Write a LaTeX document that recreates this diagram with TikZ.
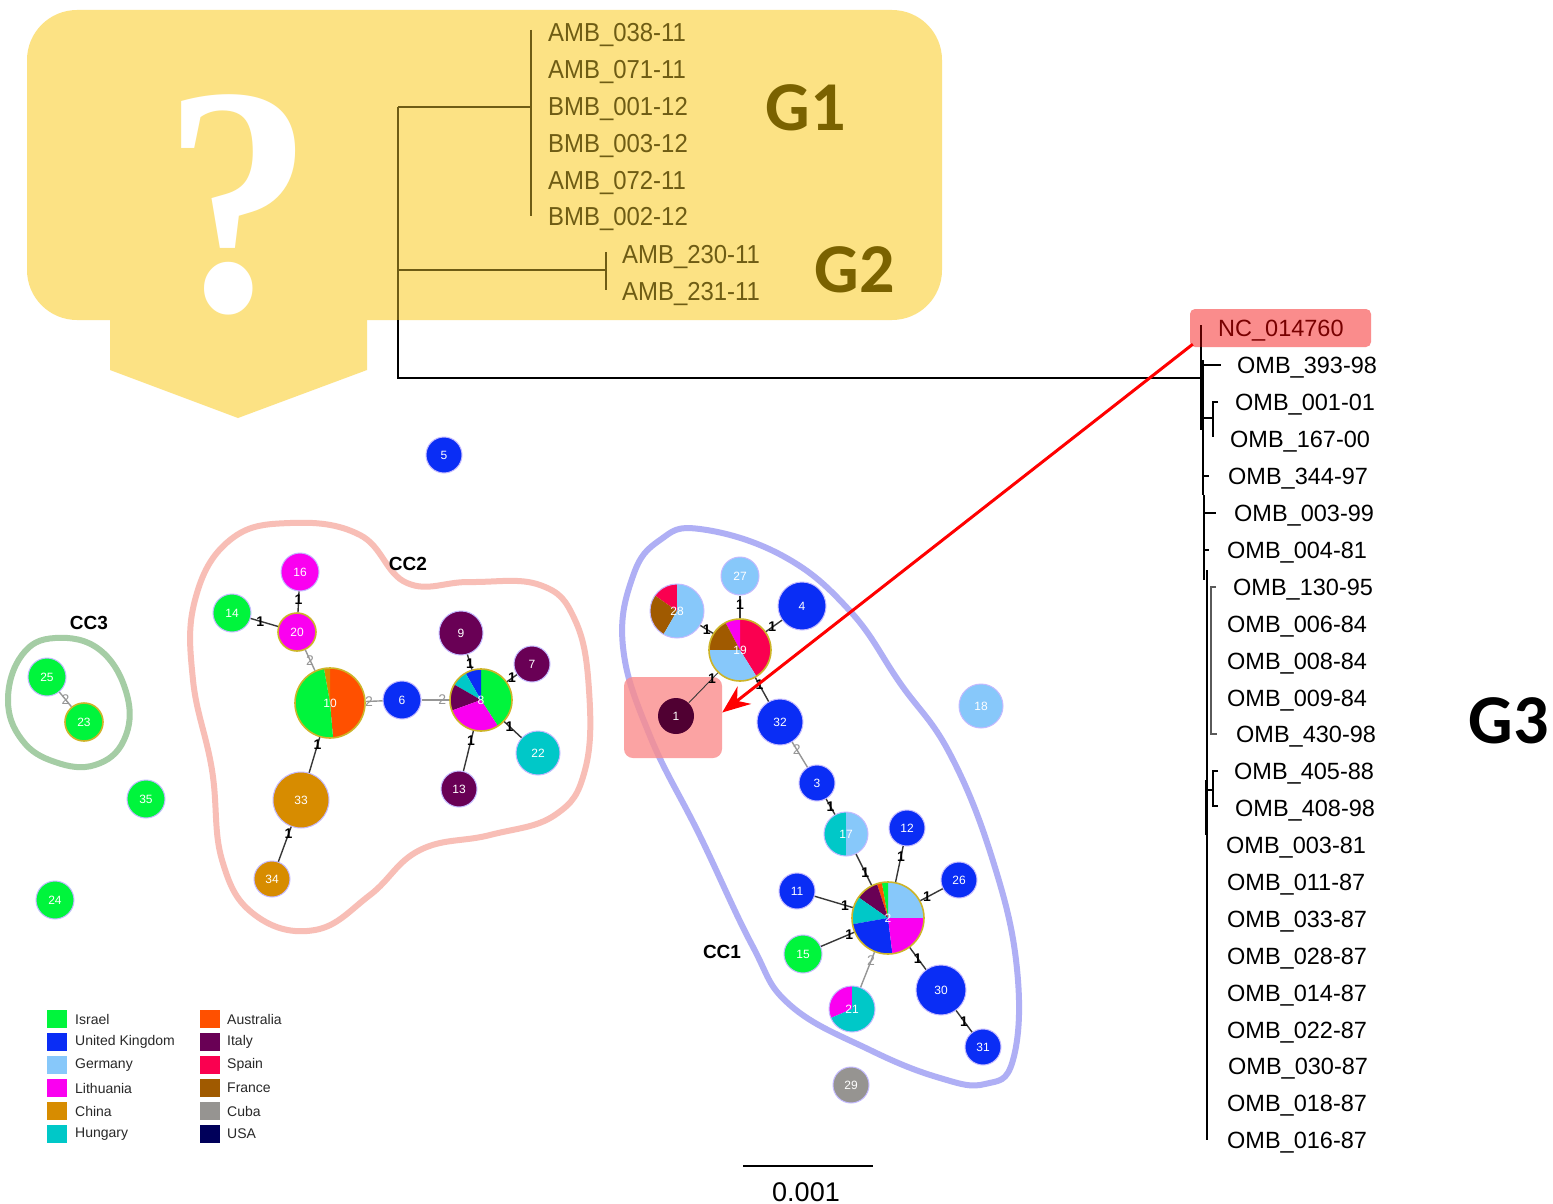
\documentclass[tikz,border=0pt]{standalone}
\usepackage{fontspec}
\usepackage{graphicx}
\setmainfont{Liberation Sans}
\newfontfamily\gfont{Carlito}
\newfontfamily\qfont{Liberation Serif}
\newfontfamily\narrowfont[FakeStretch=0.92]{Liberation Sans}
\usetikzlibrary{arrows.meta}
\definecolor{isr}{RGB}{0,245,60}
\definecolor{ukc}{RGB}{10,45,245}
\definecolor{ger}{RGB}{135,200,250}
\definecolor{lit}{RGB}{250,0,240}
\definecolor{chi}{RGB}{215,140,0}
\definecolor{hun}{RGB}{0,200,200}
\definecolor{aus}{RGB}{255,80,0}
\definecolor{ita}{RGB}{105,0,85}
\definecolor{itd}{RGB}{80,0,50}
\definecolor{spa}{RGB}{250,0,80}
\definecolor{fra}{RGB}{160,90,0}
\definecolor{cub}{RGB}{150,148,145}
\definecolor{usa}{RGB}{0,0,90}
\definecolor{yel}{RGB}{252,226,132}
\definecolor{olivet}{RGB}{110,92,20}
\definecolor{gbig}{RGB}{122,98,0}
\definecolor{pinkbox}{RGB}{250,140,140}
\definecolor{cconec}{RGB}{175,175,245}
\definecolor{cctwoc}{RGB}{248,190,182}
\definecolor{ccthreec}{RGB}{165,205,165}
\definecolor{halo}{RGB}{195,185,255}
\definecolor{hubc}{RGB}{205,180,40}
\definecolor{eone}{RGB}{55,55,55}
\definecolor{etwo}{RGB}{150,150,150}
\definecolor{legtext}{RGB}{40,40,40}
\newcommand\pslice[5]{\fill[#5] (#1) -- ++(#3:#2pt) arc[start angle=#3, end angle=#4, radius=#2pt] -- cycle;}
\begin{document}
\begin{tikzpicture}[x=1pt,y=-1pt,
  nd/.style={circle, draw=halo, line width=1pt, inner sep=0pt, text=white, font=\fontsize{12}{12}\selectfont},
  hub/.style={circle, draw=hubc, line width=1.6pt, inner sep=0pt, text=white, font=\fontsize{12}{12}\selectfont},
  eonest/.style={draw=eone, line width=1.4pt},
  etwost/.style={draw=etwo, line width=1.4pt},
  lone/.style={inner sep=0pt, text=black, font=\fontsize{14}{14}\selectfont\bfseries},
  ltwo/.style={inner sep=0pt, text=etwo, font=\fontsize{14}{14}\selectfont},
  ccl/.style={font=\fontsize{19}{19}\selectfont\bfseries, inner sep=0pt},
  gl/.style={anchor=base west, inner sep=0pt, text=olivet, font=\narrowfont\fontsize{26}{26}\selectfont},
  tl/.style={anchor=base west, inner sep=0pt, text=black, font=\fontsize{23.5}{24}\selectfont},
  big/.style={inner sep=0pt, font=\gfont\bfseries\fontsize{70}{70}\selectfont},
  legbox/.style={minimum width=20pt, minimum height=18pt, inner sep=0pt},
  legt/.style={anchor=west, inner sep=0pt, text=legtext, font=\fontsize{14}{14}\selectfont},
  treeo/.style={draw=olivet, line width=1.5pt},
  treek/.style={draw=black, line width=1.4pt}
]
\useasboundingbox (0,0) rectangle (1553,1204);
\fill[white] (0,0) rectangle (1553,1204);

% ---------- yellow callout ----------
\fill[yel, rounded corners=50pt] (27,10) rectangle (942,320);
\fill[yel] (110,300) -- (367,300) -- (367,370) -- (238,418) -- (110,370) -- cycle;
\node[anchor=base, inner sep=0pt, text=white] (qm) at (238,310)
  {\scalebox{0.92}[1]{\qfont\bfseries\fontsize{326}{326}\selectfont ?}};

% ---------- G1/G2 tree ----------
\draw[treeo] (398,107) -- (398,320);
\draw[treek] (398,320) -- (398,378) -- (1201,378);
\draw[treeo] (398,107) -- (531,107);
\draw[treeo] (531,30) -- (531,216);
\draw[treeo] (398,270) -- (606,270);
\draw[treeo] (606,252) -- (606,290);
\node[gl] (a1) at (548,42) {AMB\_038-11};
\node[gl] (a2) at (548,78.5) {AMB\_071-11};
\node[gl] (a3) at (548,115.5) {BMB\_001-12};
\node[gl] (a4) at (548,152.5) {BMB\_003-12};
\node[gl] (a5) at (548,189.5) {AMB\_072-11};
\node[gl] (a6) at (548,225.5) {BMB\_002-12};
\node[gl] (a7) at (622,263.5) {AMB\_230-11};
\node[gl] (a8) at (622,300.5) {AMB\_231-11};
\node[big, text=gbig] (g1) at (806,108) {G1};
\node[big, text=gbig] (g2) at (855,270) {G2};
\node[big, text=black] (g3) at (1509,721) {G3};

% ---------- G3 tree ----------
\node[fill=pinkbox, rounded corners=5pt, minimum width=181pt, minimum height=38pt, inner sep=0pt] (ncbox) at (1280.5,328) {};
\draw[draw={rgb,255:red,90;green,0;blue,0}, line width=1.4pt] (1201,325) -- (1201,347);
\draw[treek] (1201,347) -- (1201,430);
\draw[draw=black, line width=2.4pt] (1203,360) -- (1203,495);
\draw[draw=black, line width=1.8pt] (1204,495) -- (1204,580);
\draw[draw=black, line width=1.5pt] (1207,570) -- (1207,1140);
\draw[draw=black, line width=2.2pt] (1206,780) -- (1206,835);
\draw[treek] (1203,365) -- (1221,365);
\draw[treek] (1203,418) -- (1213,418);
\draw[treek] (1218,402) -- (1213,402) -- (1213,437);
\draw[treek] (1204,476) -- (1209,476);
\draw[treek] (1204,513) -- (1216,513);
\draw[treek] (1205,550) -- (1209,550);
\draw[draw={rgb,255:red,90;green,90;blue,90}, line width=1.3pt] (1216,587) -- (1211,587) -- (1211,734) -- (1217,734);
\draw[treek] (1207,790) -- (1213,790);
\draw[draw=black, line width=1.2pt] (1218,771) -- (1213,771) -- (1213,806) -- (1218,806);

\node[tl, text={rgb,255:red,120;green,0;blue,0}] (t0) at (1218,336.5) {NC\_014760};
\node[tl] (t1) at (1237,373.5) {OMB\_393-98};
\node[tl] (t2) at (1235,410.5) {OMB\_001-01};
\node[tl] (t3) at (1230,447.5) {OMB\_167-00};
\node[tl] (t4) at (1228,484.5) {OMB\_344-97};
\node[tl] (t5) at (1234,521.5) {OMB\_003-99};
\node[tl] (t6) at (1227,558.5) {OMB\_004-81};
\node[tl] (t7) at (1233,595.5) {OMB\_130-95};
\node[tl] (t8) at (1227,632.5) {OMB\_006-84};
\node[tl] (t9) at (1227,669.5) {OMB\_008-84};
\node[tl] (t10) at (1227,706.5) {OMB\_009-84};
\node[tl] (t11) at (1236,742.5) {OMB\_430-98};
\node[tl] (t12) at (1234,779.5) {OMB\_405-88};
\node[tl] (t13) at (1235,816.5) {OMB\_408-98};
\node[tl] (t14) at (1226,853.5) {OMB\_003-81};
\node[tl] (t15) at (1227,890.5) {OMB\_011-87};
\node[tl] (t16) at (1227,927.5) {OMB\_033-87};
\node[tl] (t17) at (1227,964.5) {OMB\_028-87};
\node[tl] (t18) at (1227,1001.5) {OMB\_014-87};
\node[tl] (t19) at (1227,1038.5) {OMB\_022-87};
\node[tl] (t20) at (1228,1074.5) {OMB\_030-87};
\node[tl] (t21) at (1227,1111.5) {OMB\_018-87};
\node[tl] (t22) at (1227,1148.5) {OMB\_016-87};

% ---------- CC outlines ----------
\draw[cconec, line width=6pt] plot[smooth cycle, tension=0.7] coordinates {
 (700,529) (783,556) (850,611) (900,683) (950,754) (993,861) (1017,969) (1013,1060)
 (985,1084) (940,1078) (870,1050) (790,1005) (752,945) (700,836) (650,736) (623,647) (633,576) (660,540)};
\draw[cctwoc, line width=6pt] plot[smooth cycle, tension=0.7] coordinates {
 (290,523) (360,535) (407,583) (470,582) (540,585) (575,620) (589,690) (585,770) (555,815)
 (490,835) (420,850) (370,895) (315,930) (255,915) (222,860) (212,770) (193,680) (195,600) (230,540)};
\draw[ccthreec, line width=6pt] plot[smooth cycle, tension=0.7] coordinates {
 (8,700) (22,655) (55,638) (100,650) (127,695) (124,740) (95,765) (55,762) (22,740)};
\node[ccl] (cc1) at (722,952) {CC1};
\node[ccl] (cc2) at (408,564) {CC2};
\node[ccl] (cc3) at (89,623) {CC3};

% highlight box around node 1
\node[fill=pinkbox, fill opacity=0.8, rounded corners=9pt, minimum width=98pt, minimum height=81pt, inner sep=0pt] (hl1) at (673,717.5) {};

% ---------- pies ----------
\pslice{330,703}{35}{-85}{90}{aus}
\pslice{330,703}{35}{90}{100}{chi}
\pslice{330,703}{35}{100}{275}{isr}
\pslice{481,700}{31}{-57}{90}{isr}
\pslice{481,700}{31}{90}{120}{ukc}
\pslice{481,700}{31}{120}{150}{hun}
\pslice{481,700}{31}{150}{200}{ita}
\pslice{481,700}{31}{200}{303}{lit}
\pslice{677,611}{27}{90}{145}{spa}
\pslice{677,611}{27}{145}{240}{fra}
\pslice{677,611}{27}{240}{450}{ger}
\pslice{740,650}{31}{-58}{90}{spa}
\pslice{740,650}{31}{90}{118}{lit}
\pslice{740,650}{31}{118}{180}{fra}
\pslice{740,650}{31}{180}{302}{ger}
\pslice{846,834}{22}{90}{270}{hun}
\pslice{846,834}{22}{-90}{90}{ger}
\pslice{888,918}{36}{0}{90}{ger}
\pslice{888,918}{36}{90}{100}{isr}
\pslice{888,918}{36}{100}{108}{aus}
\pslice{888,918}{36}{108}{145}{ita}
\pslice{888,918}{36}{145}{190}{hun}
\pslice{888,918}{36}{190}{277}{ukc}
\pslice{888,918}{36}{277}{360}{lit}
\pslice{852,1009}{23}{90}{203}{lit}
\pslice{852,1009}{23}{203}{450}{hun}

% ---------- nodes ----------
\node[nd, minimum size=36pt, fill=ukc] (n5) at (444,455) {5};
\node[nd, minimum size=38pt, fill=isr] (n25) at (47,677) {25};
\node[hub, minimum size=38pt, fill=isr] (n23) at (84,722) {23};
\node[nd, minimum size=38pt, fill=isr] (n35) at (146,799) {35};
\node[nd, minimum size=38pt, fill=isr] (n24) at (55,900) {24};
\node[nd, minimum size=38pt, fill=lit] (n16) at (300,572) {16};
\node[nd, minimum size=38pt, fill=isr] (n14) at (232,613) {14};
\node[hub, minimum size=38pt, fill=lit] (n20) at (297,632) {20};
\node[hub, minimum size=70pt] (n10) at (330,703) {10};
\node[nd, minimum size=38pt, fill=ukc] (n6) at (402,700) {6};
\node[hub, minimum size=62pt] (n8) at (481,700) {8};
\node[nd, minimum size=44pt, fill=ita] (n9) at (461,633) {9};
\node[nd, minimum size=36pt, fill=ita] (n7) at (532,664) {7};
\node[nd, minimum size=44pt, fill=hun] (n22) at (538,753) {22};
\node[nd, minimum size=36pt, fill=ita] (n13) at (459,789) {13};
\node[nd, minimum size=56pt, fill=chi] (n33) at (301,800) {33};
\node[nd, minimum size=36pt, fill=chi] (n34) at (272,879) {34};
\node[nd, minimum size=54pt] (n28) at (677,611) {28};
\node[nd, minimum size=38pt, fill=ger] (n27) at (740,576) {27};
\node[nd, minimum size=48pt, fill=ukc] (n4) at (802,606) {4};
\node[hub, minimum size=62pt] (n19) at (740,650) {19};
\node[nd, draw=none, minimum size=36pt, fill=itd] (n1) at (676,716) {1};
\node[nd, minimum size=46pt, fill=ukc] (n32) at (780,722) {32};
\node[nd, minimum size=36pt, fill=ukc] (n3) at (817,783) {3};
\node[nd, minimum size=44pt] (n17) at (846,834) {17};
\node[nd, minimum size=36pt, fill=ukc] (n12) at (907,828) {12};
\node[nd, minimum size=36pt, fill=ukc] (n26) at (959,880) {26};
\node[nd, minimum size=36pt, fill=ukc] (n11) at (797,891) {11};
\node[hub, minimum size=72pt] (n2) at (888,918) {2};
\node[nd, minimum size=38pt, fill=isr] (n15) at (803,954) {15};
\node[nd, minimum size=46pt] (n21) at (852,1009) {21};
\node[nd, minimum size=50pt, fill=ukc] (n30) at (941,990) {30};
\node[nd, minimum size=36pt, fill=ukc] (n31) at (983,1047) {31};
\node[nd, minimum size=44pt, fill=ger] (n18) at (981,706) {18};
\node[nd, minimum size=36pt, fill=cub] (n29) at (851,1085) {29};

% ---------- edges ----------
\draw[etwost] (n25) -- node[ltwo, pos=0.5] {2} (n23);
\draw[eonest] (n16) -- node[lone, pos=0.4] {1} (n20);
\draw[eonest] (n14) -- node[lone, pos=0.35] {1} (n20);
\draw[etwost] (n20) -- node[ltwo, pos=0.5] {2} (n10);
\draw[etwost] (n10) -- node[ltwo, pos=0.2] {2} (n6);
\draw[etwost] (n6) -- node[ltwo, pos=0.75] {2} (n8);
\draw[eonest] (n9) -- node[lone, pos=0.6] {1} (n8);
\draw[eonest] (n7) -- node[lone, pos=0.5] {1} (n8);
\draw[eonest] (n22) -- node[lone, pos=0.7] {1} (n8);
\draw[eonest] (n13) -- node[lone, pos=0.75] {1} (n8);
\draw[eonest] (n33) -- node[lone, pos=0.8] {1} (n10);
\draw[eonest] (n34) -- node[lone, pos=0.8] {1} (n33);
\draw[eonest] (n28) -- node[lone, pos=0.5] {1} (n19);
\draw[eonest] (n27) -- node[lone, pos=0.4] {1} (n19);
\draw[eonest] (n4) -- node[lone, pos=0.6] {1} (n19);
\draw[eonest, line width=0.9pt] (n1) -- node[lone, pos=0.8] {1} (n19);
\draw[eonest] (n19) -- node[lone, pos=0.3] {1} (n32);
\draw[etwost] (n32) -- node[ltwo, pos=0.3] {2} (n3);
\draw[eonest] (n3) -- node[lone, pos=0.5] {1} (n17);
\draw[eonest] (n17) -- node[lone, pos=0.6] {1} (n2);
\draw[eonest] (n12) -- node[lone, pos=0.3] {1} (n2);
\draw[eonest] (n26) -- node[lone, pos=0.7] {1} (n2);
\draw[eonest] (n11) -- node[lone, pos=0.8] {1} (n2);
\draw[eonest] (n15) -- node[lone, pos=0.85] {1} (n2);
\draw[etwost] (n21) -- node[ltwo, pos=0.75] {2} (n2);
\draw[eonest] (n30) -- node[lone, pos=0.5] {1} (n2);
\draw[eonest] (n31) -- node[lone, pos=0.5] {1} (n30);

% ---------- red arrow ----------
\draw[red, line width=3pt, -{Stealth[length=28pt, width=22pt]}]
  ([xshift=3pt, yshift=3pt]ncbox.south west) -- ([yshift=5pt]hl1.east);

% ---------- legend ----------
\node[legbox, fill=isr] (k1) at (57,1019) {};
\node[legbox, fill=ukc] (k2) at (57,1042) {};
\node[legbox, fill=ger] (k3) at (57,1065) {};
\node[legbox, fill=lit] (k4) at (57,1088) {};
\node[legbox, fill=chi] (k5) at (57,1111) {};
\node[legbox, fill=hun] (k6) at (57,1134) {};
\node[legbox, fill=aus] (k7) at (210,1019) {};
\node[legbox, fill=ita] (k8) at (210,1042) {};
\node[legbox, fill=spa] (k9) at (210,1065) {};
\node[legbox, fill=fra] (k10) at (210,1088) {};
\node[legbox, fill=cub] (k11) at (210,1111) {};
\node[legbox, fill=usa] (k12) at (210,1134) {};
\node[legt] (kt1) at (75,1019) {Israel};
\node[legt] (kt2) at (75,1042) {United Kingdom};
\node[legt] (kt3) at (75,1065) {Germany};
\node[legt] (kt4) at (75,1088) {Lithuania};
\node[legt] (kt5) at (75,1111) {China};
\node[legt] (kt6) at (75,1134) {Hungary};
\node[legt] (kt7) at (227,1019) {Australia};
\node[legt] (kt8) at (227,1042) {Italy};
\node[legt] (kt9) at (227,1065) {Spain};
\node[legt] (kt10) at (227,1088) {France};
\node[legt] (kt11) at (227,1111) {Cuba};
\node[legt] (kt12) at (227,1134) {USA};

% ---------- scale bar ----------
\coordinate (sba) at (743,1166);
\coordinate (sbb) at (873,1166);
\draw[line width=1.5pt] (sba) -- (sbb);
\node[anchor=base, inner sep=0pt, font=\fontsize{27}{27}\selectfont] (sbt) at (806,1201) {0.001};
\end{tikzpicture}
\end{document}
